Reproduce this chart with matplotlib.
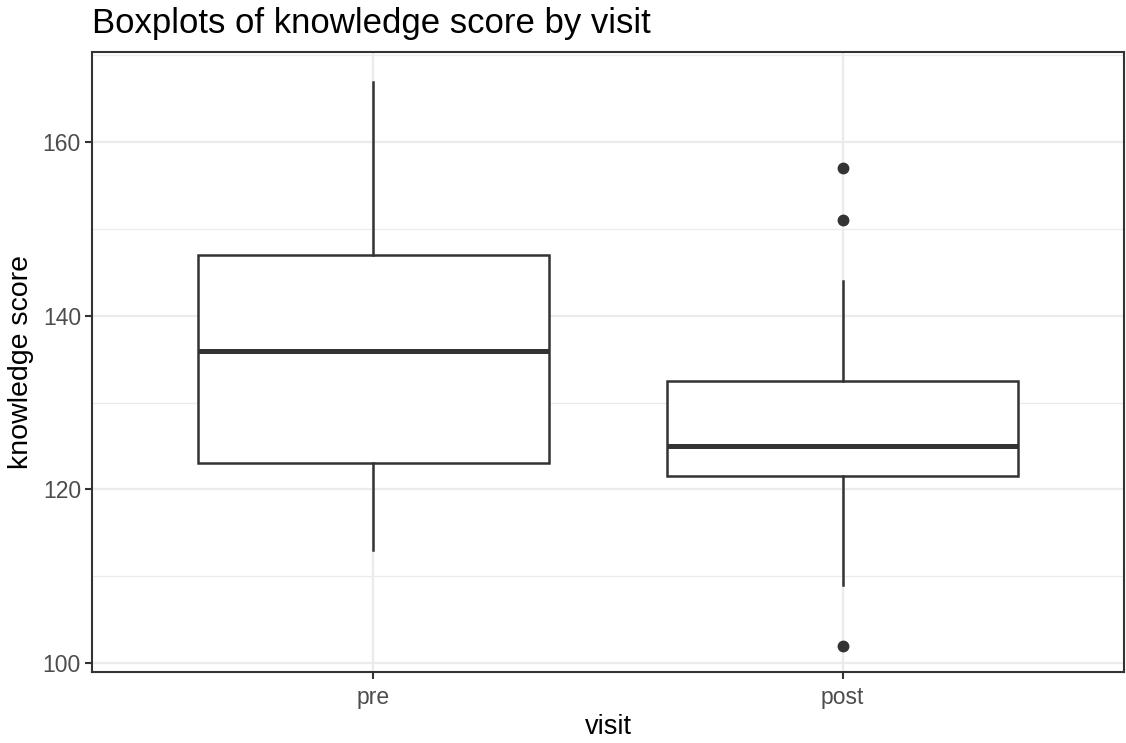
import matplotlib
matplotlib.use("Agg")
import matplotlib.pyplot as plt
from matplotlib.ticker import MultipleLocator

plt.rcParams['font.family'] = ['Liberation Sans', 'DejaVu Sans']

# Summary statistics of knowledge score per visit
visits = ["pre", "post"]
whisker_low = [113, 109]
q1 = [123, 121.5]
median = [136, 125]
q3 = [147, 132.5]
whisker_high = [167, 144]
outliers = [[], [157, 151, 102]]

stats = []
for i, v in enumerate(visits):
    stats.append(dict(label=v, whislo=whisker_low[i], q1=q1[i], med=median[i],
                      q3=q3[i], whishi=whisker_high[i], fliers=outliers[i]))

fig = plt.figure(figsize=(11.26, 7.43), dpi=100)
ax = fig.add_axes([92 / 1126, 1 - 672 / 743, (1124 - 92) / 1126, (672 - 52) / 743])

ink = "#333333"
ax.bxp(stats, positions=[1, 2], widths=0.75, showcaps=False, patch_artist=True,
       boxprops=dict(facecolor="white", edgecolor=ink, linewidth=1.8),
       medianprops=dict(color=ink, linewidth=3.6),
       whiskerprops=dict(color=ink, linewidth=1.8),
       flierprops=dict(marker="o", markerfacecolor=ink, markeredgecolor=ink,
                       markersize=7.5, linestyle="none"),
       zorder=3)

ax.set_xlim(0.4, 2.6)
ax.set_ylim(98.95, 170.4)
ax.set_xticks([1, 2])
ax.set_xticklabels(visits)
ax.yaxis.set_major_locator(MultipleLocator(20))
ax.yaxis.set_minor_locator(MultipleLocator(10))

ax.grid(True, which="major", color="#EBEBEB", linewidth=1.6, zorder=0)
ax.grid(True, which="minor", axis="y", color="#EBEBEB", linewidth=0.9, zorder=0)
ax.set_axisbelow(True)

for s in ax.spines.values():
    s.set_color(ink)
    s.set_linewidth(1.5)

ax.tick_params(axis="both", which="major", length=5, width=1.5, color=ink,
               labelsize=16.5, labelcolor="#4D4D4D", pad=3)
ax.tick_params(axis="x", which="major", pad=5)
ax.tick_params(axis="y", which="minor", length=0)

ax.set_xlabel("visit", fontsize=19.5, color="black", labelpad=4)
ax.set_ylabel("knowledge score", fontsize=20.5, color="black", labelpad=6)
fig.text(92 / 1126, 1 - 24 / 743, "Boxplots of knowledge score by visit",
         fontsize=25, color="black", ha="left", va="center")

fig.savefig("out.png", dpi=100, facecolor="white")
